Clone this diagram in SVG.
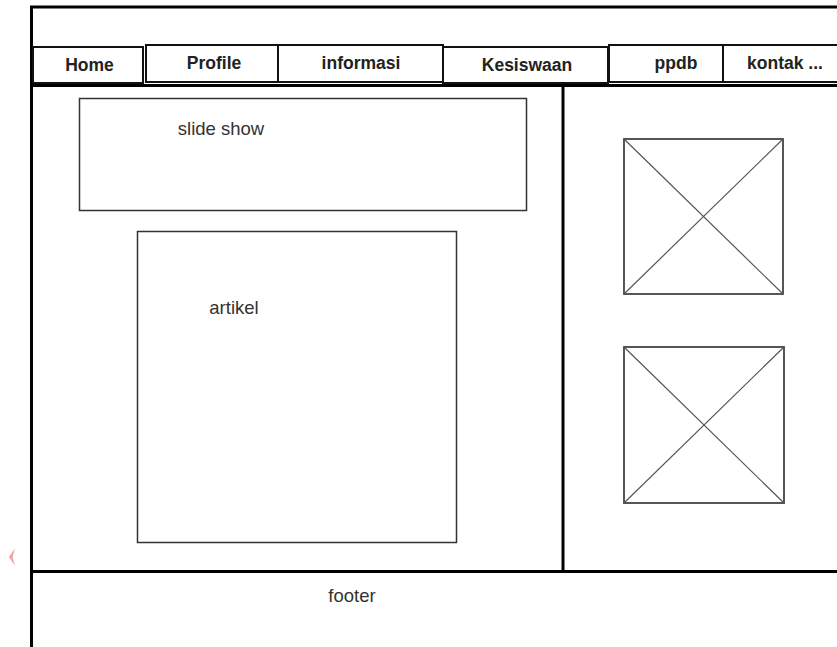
<svg xmlns="http://www.w3.org/2000/svg" width="837" height="647" viewBox="0 0 837 647">
<style>
.frame{stroke:#000;stroke-width:3;fill:none}
.tab{fill:#fff;stroke:#111;stroke-width:2}
.tabt{font-family:"Liberation Sans",Arial,sans-serif;font-weight:bold;font-size:17.5px;fill:#222;text-anchor:middle}
.box{fill:#fff;stroke:#333;stroke-width:1.5}
.lbl{font-family:"Liberation Sans",Arial,sans-serif;font-size:18.5px;fill:#333;text-anchor:middle}
.img{fill:#fff;stroke:#444;stroke-width:1.8}
.diag{stroke:#555;stroke-width:1.2}
</style>
<rect width="837" height="647" fill="#fff"/>
<g id="page-frame">
<line class="frame" x1="31.5" y1="6" x2="31.5" y2="647"/>
<line class="frame" x1="30" y1="7" x2="837" y2="7" stroke-width="2.5"/>
<line class="frame" x1="30" y1="85.5" x2="837" y2="85.5"/>
<line class="frame" x1="563" y1="85" x2="563" y2="572" stroke-width="2.5"/>
<line class="frame" x1="30" y1="571.5" x2="837" y2="571.5"/>
</g>
<g id="tab-home"><rect class="tab" x="33" y="47" width="110" height="36"/><text class="tabt" x="89.5" y="71">Home</text></g>
<g id="tab-profile"><rect class="tab" x="146" y="45" width="132" height="37"/><text class="tabt" x="214" y="69">Profile</text></g>
<g id="tab-informasi"><rect class="tab" x="278" y="45" width="165" height="37"/><text class="tabt" x="361" y="69">informasi</text></g>
<g id="tab-kesiswaan"><rect class="tab" x="443" y="47" width="165" height="36"/><text class="tabt" x="527" y="71">Kesiswaan</text></g>
<g id="tab-ppdb"><rect class="tab" x="609" y="45" width="114" height="37"/><text class="tabt" x="676" y="69">ppdb</text></g>
<g id="tab-kontak"><rect class="tab" x="723" y="45" width="120" height="37"/><text class="tabt" x="785" y="69">kontak ...</text></g>
<g id="slide-show"><rect class="box" x="79.5" y="98.5" width="447" height="112"/><text class="lbl" x="221" y="135">slide show</text></g>
<g id="artikel"><rect class="box" x="137.5" y="231.5" width="319" height="311"/><text class="lbl" x="234" y="314">artikel</text></g>
<g id="image-1"><rect class="img" x="624" y="139" width="159" height="155"/><line class="diag" x1="624" y1="139" x2="783" y2="294"/><line class="diag" x1="783" y1="139" x2="624" y2="294"/></g>
<g id="image-2"><rect class="img" x="624" y="347" width="160" height="156"/><line class="diag" x1="624" y1="347" x2="784" y2="503"/><line class="diag" x1="784" y1="347" x2="624" y2="503"/></g>
<g id="footer"><text class="lbl" x="352" y="602">footer</text></g>
<g id="connectors"></g>
<polygon points="15,548 9,557 15,566 12.5,557" fill="#f0a0a8"/>
</svg>
